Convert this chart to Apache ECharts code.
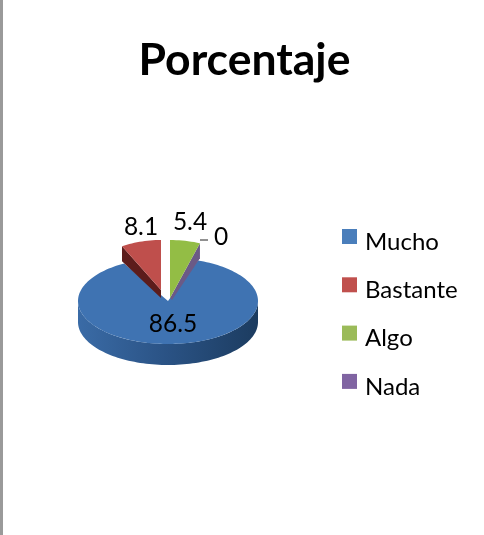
<!DOCTYPE html>
<html><head><meta charset="utf-8">
<style>html,body{margin:0;padding:0;background:#fff}#c{width:484px;height:535px}</style>
<script src="https://cdn.jsdelivr.net/npm/echarts@6/dist/echarts.min.js"></script>
</head><body><div id="c"></div>
<script>
const categories = ['Mucho', 'Bastante', 'Algo', 'Nada'];
const values = [86.5, 8.1, 5.4, 0];
const titleText = 'Porcentaje';
const colors = ['#4a7ebb', '#c0504d', '#9bbb59', '#8064a2'];
const FONT = 'Lato, "Open Sans", sans-serif';

const FIRST_ANGLE = 19.44;
const total = values.reduce((a, b) => a + b, 0);
const starts = [];
values.reduce((acc, v, i) => { starts[i] = acc; return acc + v / total * 360; }, FIRST_ANGLE);

// per-slice look: apex, radii of the flattened ellipse, thickness, label place
const looks = [
  {cx:168, cy:301, rx:90, ry:43, depth:21, top:'#3f73b2', side:['#3a6ba6','#2a5284','#1c3c60'], lx:173, ly:324},
  {cx:161, cy:290, rx:80, ry:50, depth:13, top:'#bf4f4c', inner:'#5c1c1b', lx:141, ly:227},
  {cx:170, cy:298, rx:90, ry:58, depth:13, top:'#93bd45', inner:'#6b5a86', lx:190, ly:222},
  {cx:200, cy:240, rx:0, ry:0, depth:0, top:'#8064a2', lx:221, ly:237, leader:true}
];

function pt(L, deg, dy) {
  const a = deg * Math.PI / 180;
  return [L.cx + L.rx * Math.sin(a), L.cy - L.ry * Math.cos(a) + (dy || 0)];
}
function arc(L, a0, a1, dy) {
  const n = Math.max(2, Math.ceil(Math.abs(a1 - a0) / 2)), out = [];
  for (let i = 0; i <= n; i++) out.push(pt(L, a0 + (a1 - a0) * i / n, dy));
  return out;
}

function render(idx) {
  return function (params, api) {
    const v = api.value(0), L = looks[idx];
    const a0 = starts[idx], a1 = a0 + v / total * 360;
    const kids = [];
    if (v > 0 && idx === 0) {
      const f0 = Math.max(a0, 90), f1 = Math.min(a1, 270);
      kids.push({type:'polygon', shape:{points: arc(L, f0, f1, 0).concat(arc(L, f1, f0, L.depth))},
        style:{fill:new echarts.graphic.LinearGradient(1,0,0,0,[
          {offset:0,color:L.side[2]},{offset:.5,color:L.side[1]},{offset:1,color:L.side[0]}])}});
    }
    if (v > 0 && idx === 1) {
      const c = pt(L, a0);
      kids.push({type:'polygon', shape:{points:[c, [c[0], c[1] + L.depth + 2], [L.cx, L.cy + L.depth - 5], [L.cx, L.cy]]},
        style:{fill:L.inner}});
    }
    if (v > 0 && idx === 2) {
      const c = pt(L, a1);
      kids.push({type:'polygon', shape:{points:[c, [c[0], c[1] + L.depth + 2], [L.cx + 2, L.cy + 2], [L.cx, L.cy]]},
        style:{fill:L.inner}});
    }
    if (v > 0) {
      kids.push({type:'polygon', shape:{points:[[L.cx, L.cy]].concat(arc(L, a0, a1, 0))},
        style:{fill:L.top}});
    }
    if (L.leader) {
      kids.push({type:'line', shape:{x1:L.cx, y1:L.cy, x2:L.cx + 8, y2:L.cy}, style:{stroke:'#222', lineWidth:1}});
    }
    kids.push({type:'text', z2:10, style:{x:L.lx, y:L.ly, text:String(v), fill:'#000',
      font:'24.5px ' + FONT, align:'center', verticalAlign:'middle'}});
    return {type:'group', children:kids};
  };
}

const chart = echarts.init(document.getElementById('c'), null, {renderer:'canvas'});
chart.setOption({
  animation:false,
  backgroundColor:'#fff',
  color:colors,
  title:{text:titleText, left:239.5, top:33, textAlign:'center',
    textStyle:{fontFamily:FONT, fontSize:44.5, fontWeight:'bold', color:'#000'}},
  legend:{orient:'vertical', left:337, top:224, itemWidth:15, itemHeight:15, itemGap:23.3, icon:'rect',
    data:categories, selectedMode:false,
    formatter:n => '{t|' + n + '}',
    textStyle:{fontFamily:FONT, fontSize:24, color:'#000',
      rich:{t:{fontFamily:FONT, fontSize:24, color:'#000', padding:[11,0,0,3]}}}},
  graphic:[{type:'rect', shape:{x:0, y:0, width:3, height:535}, style:{fill:'#9a9a9a'}}],
  series:categories.map((name, i) => ({
    type:'custom', name, coordinateSystem:'none', renderItem:render(i), data:[[values[i]]],
    itemStyle:{color:colors[i]}, silent:true, z:2 + i
  }))
});
</script></body></html>
